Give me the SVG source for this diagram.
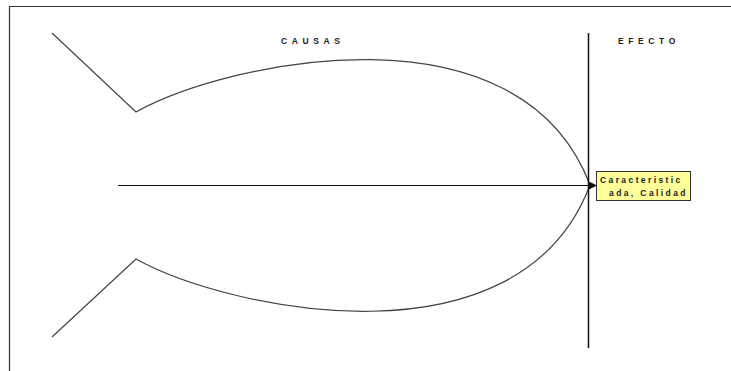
<svg xmlns="http://www.w3.org/2000/svg" width="731" height="371" viewBox="0 0 731 371">
<style>
.ln{fill:none;stroke:#444;stroke-width:1.2}
.lbl{font-family:"Liberation Sans",Arial,sans-serif;font-size:8.5px;font-weight:bold;fill:#222;letter-spacing:4.6px}
.bx{font-family:"Liberation Sans",Arial,sans-serif;font-size:8.5px;font-weight:bold;fill:#222;letter-spacing:2.4px}
</style>
<defs>
<marker id="ah" markerWidth="8" markerHeight="8" refX="7" refY="4" orient="auto" markerUnits="userSpaceOnUse">
<path d="M0,0 L8,4 L0,8 Z" fill="#111"/>
</marker>
</defs>
<rect width="731" height="371" fill="#fff"/>
<g id="frame">
<path d="M9.5,371 V6.5 H731" fill="none" stroke="#333" stroke-width="1.2"/>
</g>
<g id="fish">
<path class="ln" d="M52,33 L136,112 C230,60 520,0 590,185"/>
<path class="ln" d="M52,337 L136,259 C230,311 520,371 590,185"/>
</g>
<g id="divider">
<line x1="588.5" y1="33" x2="588.5" y2="348" stroke="#111" stroke-width="1.5"/>
</g>
<g id="connectors">
<line x1="118" y1="185.5" x2="596" y2="185.5" stroke="#111" stroke-width="1.2" marker-end="url(#ah)"/>
</g>
<g id="causas"><text class="lbl" x="281" y="44">CAUSAS</text></g>
<g id="efecto"><text class="lbl" x="618" y="44">EFECTO</text></g>
<g id="effect-box">
<rect x="596.5" y="171.5" width="94" height="29" fill="#ffff99" stroke="#333" stroke-width="1"/>
<text class="bx" x="600" y="183">Caracteristic</text>
<text class="bx" x="609" y="196">ada, Calidad</text>
</g>
</svg>
